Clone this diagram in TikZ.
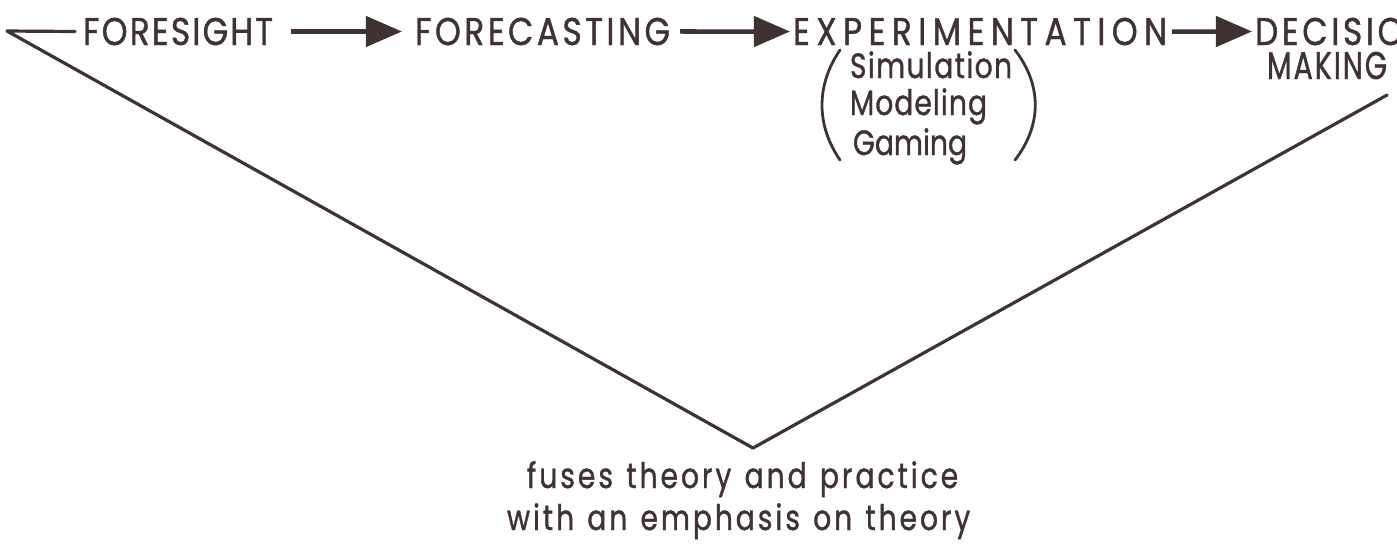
\documentclass[tikz,border=0pt]{standalone}
\usepackage{fontspec}
\setmainfont{Poppins}
\newfontfamily\capsfont{Poppins}[FakeStretch=0.85, FakeBold=1]
\newfontfamily\narrowcaps{Poppins}[FakeStretch=0.74, FakeBold=1]
\newfontfamily\lowfont{Poppins}[FakeStretch=0.8, FakeBold=1]
\usetikzlibrary{arrows.meta}
\definecolor{ink}{RGB}{64,50,50}
\ExplSyntaxOn
\bool_new:N \l__rs_first_bool
\NewDocumentCommand \spreadto { m m }
  {
    \hbox to #1
      {
        \bool_set_true:N \l__rs_first_bool
        \str_map_inline:nn {#2}
          {
            \str_if_eq:nnTF {##1} {~}
              { \hskip 0.25em plus 0.5fil minus 0.5fil }
              {
                \bool_if:NF \l__rs_first_bool { \hskip 0pt plus 1fil minus 1fil }
                \bool_set_false:N \l__rs_first_bool
                ##1
              }
          }
      }
  }
\ExplSyntaxOff
\begin{document}
\begin{tikzpicture}[x=0.01cm,y=-0.01cm,
  txt/.style={inner sep=0pt, outer sep=0pt, anchor=base west, text=ink, font=\capsfont\fontsize{11}{13}\selectfont},
  ncaps/.style={txt, font=\narrowcaps\fontsize{11}{13}\selectfont},
  low/.style={txt, font=\lowfont\fontsize{10}{12}\selectfont},
  vline/.style={draw=ink, line width=0.032cm, line cap=round, line join=round},
  arr/.style={draw=ink, line width=0.045cm, -{Triangle[length=0.36cm,width=0.30cm]}},
  paren/.style={draw=ink, line width=0.028cm, line cap=round}]
\useasboundingbox (0,0) rectangle (1397,544);
\clip (0,0) rectangle (1397,544);
\fill[white] (0,0) rectangle (1397,544);
% top row
\node[txt] (fs) at (83,45) {\spreadto{1.90cm}{FORESIGHT}};
\node[txt] (fc) at (415,45) {\spreadto{2.55cm}{FORECASTING}};
\node[txt] (ex) at (793,45) {\spreadto{3.74cm}{EXPERIMENTATION}};
\node[txt] (dm) at (1255,45) {\spreadto{1.75cm}{DECISION}};
\node[ncaps] (mk) at (1267,79) {\spreadto{1.20cm}{MAKING}};
% sub list
\node[low] (sim) at (850,78) {\spreadto{1.62cm}{Simulation}};
\node[low] (mod) at (850,115) {\spreadto{1.37cm}{Modeling}};
\node[low] (gam) at (853,155) {\spreadto{1.14cm}{Gaming}};
% bottom text
\node[low] (b1) at (527,488) {\spreadto{4.31cm}{fuses theory and practice}};
\node[low] (b2) at (507,530) {\spreadto{4.63cm}{with an emphasis on theory}};
% arrows
\draw[arr] ([xshift=0.18cm]fs.east) -- ([xshift=-0.13cm]fc.west);
\draw[arr] ([xshift=0.10cm]fc.east) -- ([xshift=-0.03cm]ex.west);
\draw[arr] ([xshift=0.05cm]ex.east) -- ([xshift=-0.03cm]dm.west);
% V shape
\coordinate (L) at (7,31);
\coordinate (V) at (753,448);
\draw[vline] ([xshift=-0.08cm]fs.west) -- (L) -- (V) -- ([yshift=-0.16cm]mk.base east);
% parentheses
\draw[paren] (840,50) .. controls (816,85) and (816,125) .. (840,160);
\draw[paren] (1015,50) .. controls (1042,85) and (1042,125) .. (1015,160);
\end{tikzpicture}
\end{document}
